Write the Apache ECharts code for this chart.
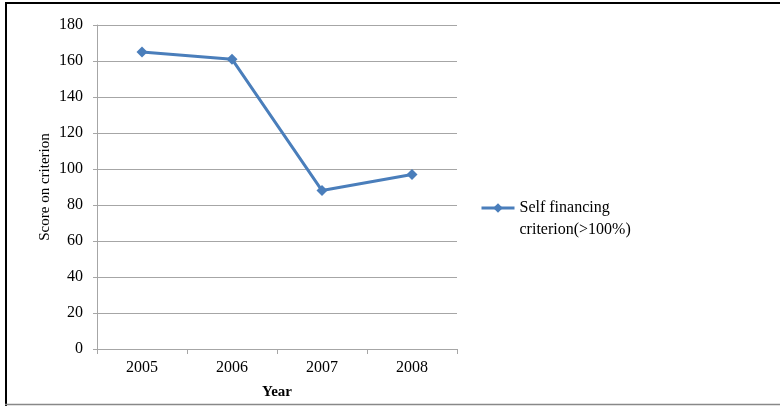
<!DOCTYPE html>
<html>
<head>
<meta charset="utf-8">
<script src="https://cdn.jsdelivr.net/npm/echarts@6/dist/echarts.min.js"></script>
<style>
html,body{margin:0;padding:0;background:#fff;}
#chart{width:780px;height:406px;}
</style>
</head>
<body>
<div id="chart"></div>
<script>
const categories = ['2005', '2006', '2007', '2008'];
const seriesName = 'Self financing\ncriterion(>100%)';
const values = [165, 161, 88, 97];
const yTicks = { min: 0, max: 180, interval: 20 };

const chart = echarts.init(document.getElementById('chart'));
const serif = '"Liberation Serif", "Times New Roman", serif';
const gridColor = '#a6a6a6';
const lineColor = '#4a7ebb';
chart.setOption({
  backgroundColor: '#ffffff',
  animation: false,
  grid: { left: 97, right: 323, top: 25, bottom: 57, containLabel: false, outerBoundsMode: 'none' },
  legend: {
    data: [seriesName],
    left: 480, top: 175,
    padding: 0,
    itemWidth: 33, itemHeight: 12,
    itemGap: 4,
    formatter: n => '\u00a0\n' + n,
    lineStyle: { width: 3, color: lineColor },
    itemStyle: { color: lineColor },
    textStyle: { fontFamily: serif, fontSize: 16, color: '#000', lineHeight: 22 }
  },
  xAxis: {
    type: 'category',
    data: categories,
    boundaryGap: true,
    name: 'Year',
    nameLocation: 'middle',
    nameGap: 36,
    nameTextStyle: { fontFamily: serif, fontSize: 15, fontWeight: 'bold', color: '#000' },
    axisLine: { show: true, lineStyle: { color: gridColor, width: 1 } },
    axisTick: { show: true, alignWithLabel: false, length: 5, lineStyle: { color: gridColor } },
    axisLabel: { fontFamily: serif, fontSize: 16, color: '#000', margin: 11 },
    splitLine: { show: false }
  },
  yAxis: {
    type: 'value',
    min: yTicks.min, max: yTicks.max, interval: yTicks.interval,
    name: 'Score on criterion',
    nameLocation: 'middle',
    nameGap: 44,
    nameRotate: 90,
    nameTextStyle: { fontFamily: serif, fontSize: 15, color: '#000' },
    axisLine: { show: true, lineStyle: { color: gridColor, width: 1 } },
    axisTick: { show: true, length: 4, lineStyle: { color: gridColor } },
    axisLabel: { fontFamily: serif, fontSize: 16, color: '#000', margin: 14 },
    splitLine: { show: true, lineStyle: { color: gridColor, width: 1 } }
  },
  series: [{
    name: seriesName,
    type: 'line',
    data: values,
    symbol: 'diamond',
    symbolSize: 11,
    itemStyle: { color: lineColor },
    lineStyle: { color: lineColor, width: 3 }
  }],
  graphic: [
    { type: 'line', shape: { x1: 6, y1: 2, x2: 6, y2: 406 }, style: { stroke: '#000', lineWidth: 2 } },
    { type: 'line', shape: { x1: 5, y1: 3, x2: 780, y2: 3 }, style: { stroke: '#000', lineWidth: 2 } },
    { type: 'line', shape: { x1: 5, y1: 404.5, x2: 780, y2: 404.5 }, style: { stroke: '#888', lineWidth: 1.5 } }
  ]
});
</script>
</body>
</html>
